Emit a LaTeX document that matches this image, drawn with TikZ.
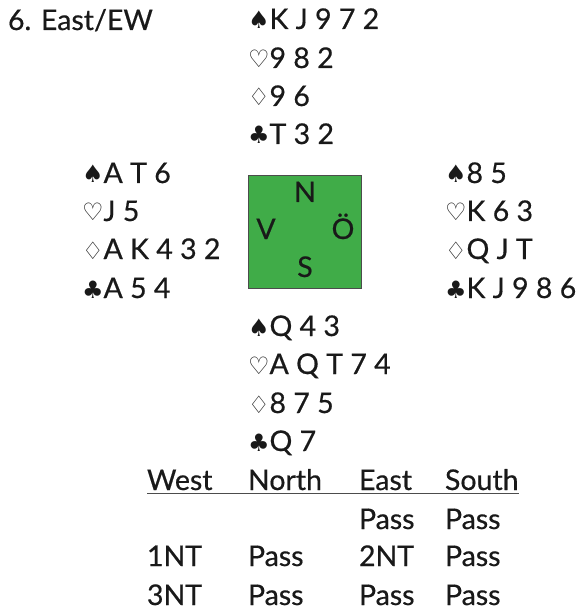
\documentclass[tikz,border=0pt]{standalone}
\usepackage{fontspec}
\setmainfont{Lato}[FakeBold=0.5]
\newfontfamily\suitfont{DejaVu Sans}
\definecolor{boxgreen}{RGB}{64,172,72}
\definecolor{txt}{RGB}{25,25,25}
\newcommand{\spd}{{\suitfont\fontsize{24}{24}\selectfont ♠}}
\newcommand{\hrt}{{\suitfont\fontsize{24}{24}\selectfont ♡}}
\newcommand{\dmd}{{\suitfont\fontsize{24}{24}\selectfont ♢}}
\newcommand{\clb}{{\suitfont\fontsize{24}{24}\selectfont ♣}}
\begin{document}
\begin{tikzpicture}[x=1pt,y=-1pt,
  every node/.style={inner sep=0pt,outer sep=0pt,text=txt,font=\fontsize{28.5}{28.5}\selectfont},
  card/.style={anchor=base west},
  seat/.style={anchor=base}]
\useasboundingbox (0,0) rectangle (583,612);
\fill[white] (0,0) rectangle (583,612);
\node[card] (title) at (8,30) {6. East/EW};
% North
\node[card] (n1) at (248,29) {\spd K J 9 7 2};
\node[card] (n2) at (248,68) {\hrt 9 8 2};
\node[card] (n3) at (248,106) {\dmd 9 6};
\node[card] (n4) at (248,144) {\clb T 3 2};
% West
\node[card] (w1) at (82,183) {\spd A T 6};
\node[card] (w2) at (82,221) {\hrt J 5};
\node[card] (w3) at (82,259) {\dmd A K 4 3 2};
\node[card] (w4) at (82,298) {\clb A 5 4};
% East
\node[card] (e1) at (445,183) {\spd 8 5};
\node[card] (e2) at (445,221) {\hrt K 6 3};
\node[card] (e3) at (445,259) {\dmd Q J T};
\node[card] (e4) at (445,298) {\clb K J 9 8 6};
% South
\node[card] (s1) at (248,336) {\spd Q 4 3};
\node[card] (s2) at (248,374) {\hrt A Q T 7 4};
\node[card] (s3) at (248,413) {\dmd 8 7 5};
\node[card] (s4) at (248,451) {\clb Q 7};
% Table
\draw[fill=boxgreen,draw=black!70,line width=0.8pt] (248,175) rectangle (361,288);
\node[seat] (sn) at (305,202) {N};
\node[seat] (sv) at (266,239) {V};
\node[seat] (so) at (343,239) {Ö};
\node[seat] (ss) at (305,277) {S};
% Auction
\node[card] (hw) at (147,490) {West};
\node[card] (hn) at (248,490) {North};
\node[card] (he) at (359,490) {East};
\node[card] (hs) at (445,490) {South};
\draw[black!70,line width=1pt] (147,493) -- (519,493);
\node[card] (a1) at (359,529) {Pass};
\node[card] (a2) at (445,529) {Pass};
\node[card] (a3) at (147,566) {1NT};
\node[card] (a4) at (248,566) {Pass};
\node[card] (a5) at (359,566) {2NT};
\node[card] (a6) at (445,566) {Pass};
\node[card] (a7) at (147,605) {3NT};
\node[card] (a8) at (248,605) {Pass};
\node[card] (a9) at (359,605) {Pass};
\node[card] (a10) at (445,605) {Pass};
\end{tikzpicture}
\end{document}
